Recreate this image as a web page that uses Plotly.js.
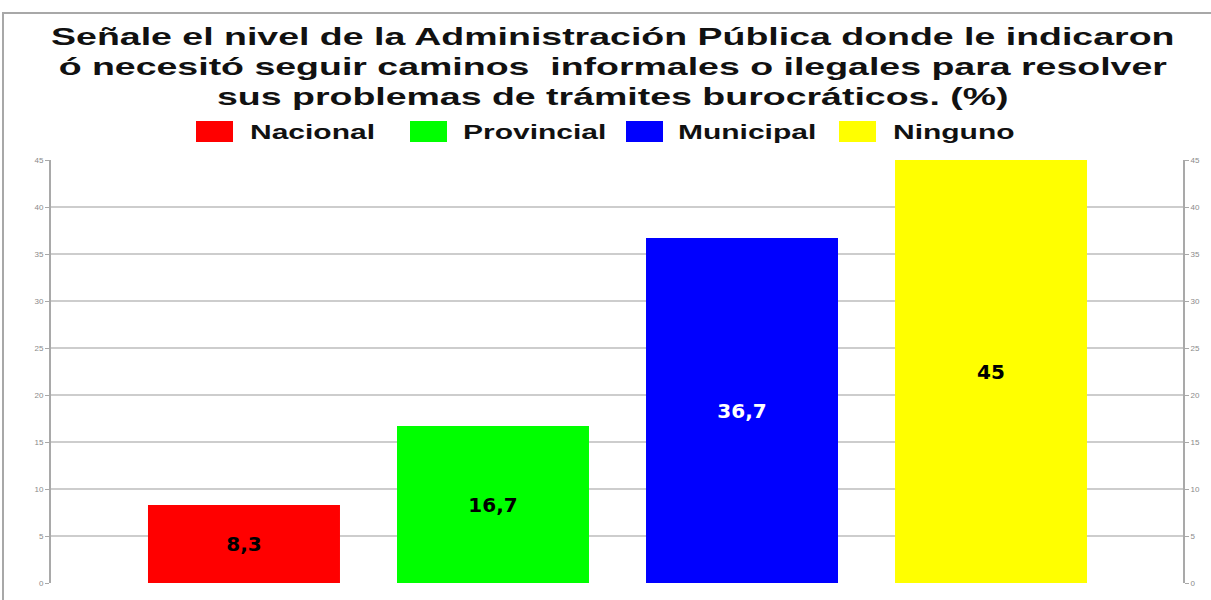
<!DOCTYPE html>
<html>
<head>
<meta charset="utf-8">
<script src="https://cdn.plot.ly/plotly-3.0.1.min.js"></script>
<style>
  html, body { margin: 0; padding: 0; background: #fff; }
  #chart { width: 1211px; height: 600px; }
  .gtitle { transform-box: fill-box; transform-origin: center; transform: scaleX(1.63); }
  .annotation-text { transform-box: fill-box; transform-origin: left center; transform: scaleX(1.5); }
</style>
</head>
<body>
<div id="chart"></div>
<script>
// ---- data ----
const categories = ["Nacional", "Provincial", "Municipal", "Ninguno"];
const values = [8.3, 16.7, 36.7, 45];
const barColors = ["#ff0000", "#00ff00", "#0000ff", "#ffff00"];
const labelColors = ["#000000", "#000000", "#ffffff", "#000000"];
const yTicks = [0, 5, 10, 15, 20, 25, 30, 35, 40, 45];
const titleText = "Señale el nivel de la Administración Pública donde le indicaron<br>ó necesitó seguir caminos  informales o ilegales para resolver<br>sus problemas de trámites burocráticos. (%)";

// ---- traces ----
const traces = categories.map((c, i) => ({
  type: "bar",
  x: [c],
  y: [values[i]],
  name: c,
  width: 0.771,
  marker: { color: barColors[i], line: { width: 0 } },
  texttemplate: "%{y}",
  textposition: "inside",
  insidetextanchor: "middle",
  textangle: 0,
  textfont: { family: "DejaVu Sans", size: 20, color: labelColors[i], weight: "bold" },
  showlegend: false,
  hoverinfo: "skip"
}));
// invisible copy on the right-hand axis so that it is drawn
traces.push({
  type: "bar", x: categories, y: values, yaxis: "y2",
  width: 0.771, marker: { opacity: 0 }, showlegend: false, hoverinfo: "skip"
});

// ---- manual legend (large swatches) ----
const legSwatchX = [196, 410, 626, 839];
const legTextX = [248, 461, 676, 891];
const L = 51, R = 1183, T = 160, B = 583;
const px2x = p => (p - L) / (R - L);
const px2y = p => (B - p) / (B - T);

const shapes = [];
const annotations = [];
categories.forEach((c, i) => {
  shapes.push({
    type: "rect", xref: "paper", yref: "paper",
    x0: px2x(legSwatchX[i]), x1: px2x(legSwatchX[i] + 37),
    y0: px2y(142), y1: px2y(121),
    fillcolor: barColors[i], line: { width: 0 }
  });
  annotations.push({
    xref: "paper", yref: "paper",
    x: px2x(legTextX[i]), y: px2y(132),
    xanchor: "left", yanchor: "middle",
    text: c, showarrow: false,
    font: { family: "Liberation Sans", size: 20, color: "#111", weight: "bold" }
  });
});
// outer frame
shapes.push({
  type: "path", xref: "paper", yref: "paper",
  path: `M ${px2x(3)} ${px2y(640)} L ${px2x(3)} ${px2y(13)} L ${px2x(1260)} ${px2y(13)}`,
  line: { color: "#a8a8a8", width: 2 }
});

const axisCommon = {
  range: [0, 45],
  tickvals: yTicks,
  ticktext: yTicks.map(String),
  showline: true,
  linecolor: "#a9a9a9",
  linewidth: 2,
  ticks: "outside",
  ticklen: 4,
  tickcolor: "#a9a9a9",
  tickwidth: 1,
  tickfont: { family: "Liberation Sans", size: 8, color: "#8a8a8a" },
  zeroline: false,
  fixedrange: true
};

const layout = {
  width: 1211,
  height: 600,
  margin: { l: L, r: 1211 - R, t: T, b: 600 - B },
  paper_bgcolor: "#ffffff",
  plot_bgcolor: "#ffffff",
  title: {
    text: titleText,
    x: 0.506, xanchor: "center",
    y: 1 - 45 / 600, yanchor: "top",
    font: { family: "Liberation Sans", size: 23, color: "#111", weight: "bold" }
  },
  barmode: "overlay",
  xaxis: {
    type: "category",
    categoryarray: categories,
    range: [-0.775, 3.771],
    showticklabels: false,
    showline: false,
    showgrid: false,
    ticks: "",
    zeroline: false
  },
  yaxis: Object.assign({}, axisCommon, {
    showgrid: true, gridcolor: "#cdcdcd", gridwidth: 1.5, side: "left"
  }),
  yaxis2: Object.assign({}, axisCommon, {
    overlaying: "y", side: "right", showgrid: false
  }),
  shapes: shapes,
  annotations: annotations,
  separators: ",.",
  showlegend: false
};

Plotly.newPlot("chart", traces, layout, { displayModeBar: false, staticPlot: true });
</script>
</body>
</html>
